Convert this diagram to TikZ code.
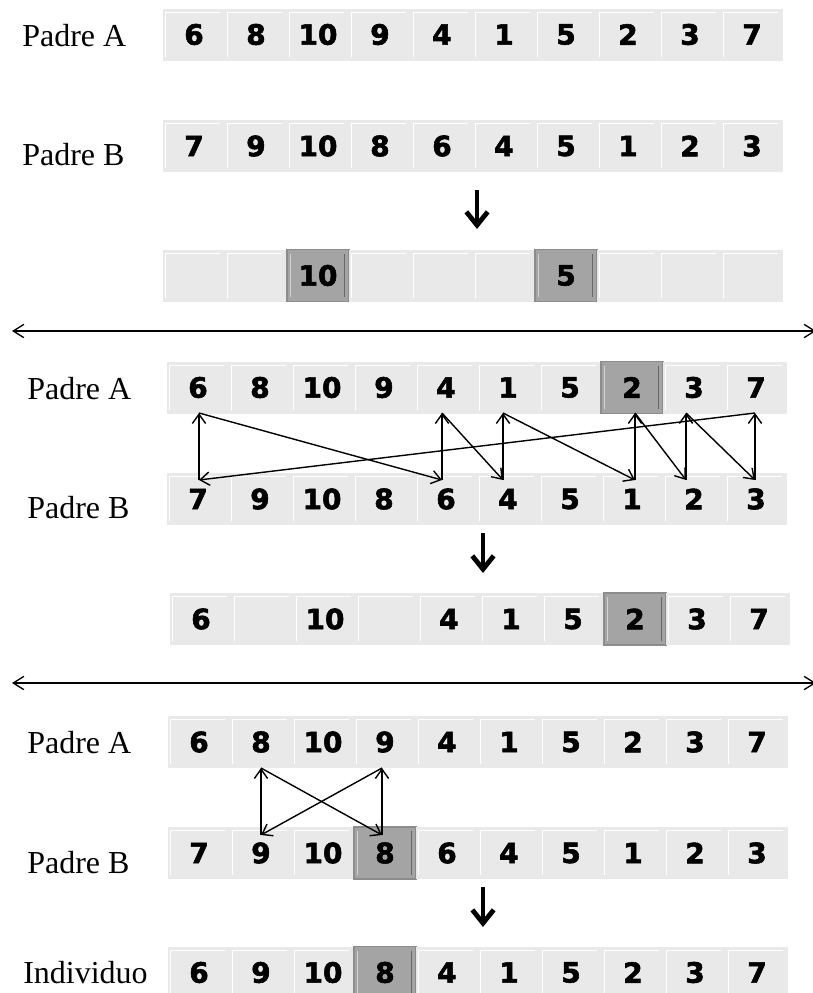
\documentclass[tikz,border=0pt]{standalone}
\usepackage{fontspec}
\setmainfont{Liberation Serif}
\newfontfamily\numfont{DejaVu Sans}[BoldFeatures={FakeBold=2}]
\usetikzlibrary{arrows.meta,calc}
\definecolor{cellfill}{HTML}{E9E9E9}
\definecolor{cellhl}{HTML}{A4A4A4}
\definecolor{hlborder}{HTML}{8C8C8C}
\tikzset{
  cell/.style={rectangle, minimum width=46.5pt, minimum height=39pt, inner sep=0pt,
    fill=cellfill, font=\numfont\bfseries\fontsize{21}{21}\selectfont},
  hlcell/.style={cell, fill=cellhl, draw=hlborder, line width=1.1pt},
  lab/.style={anchor=base west, inner sep=0pt, font=\fontsize{24}{24}\selectfont},
  link/.style={line width=1.05pt, -{Straight Barb[length=7pt,width=10pt]}},
  down/.style={line width=3.6pt, -{Straight Barb[length=10pt,width=16pt]}},
  sep/.style={line width=1pt, {Straight Barb[length=8pt,width=10pt]}-{Straight Barb[length=8pt,width=10pt]}},
}
% #1 name, #2 left x, #3 centre y, #4 items, #5 highlighted index (0 = none)
\newcommand\cellrow[5]{%
  \foreach \v [count=\i] in {#4} {
    \pgfmathsetmacro\cx{#2+31+62*(\i-1)}
    \ifnum\i=#5\relax
      \node[hlcell] (#1c\i) at (\cx,#3) {\v};
      \draw[gray!35, line width=0.9pt] ($(#1c\i.north west)+(4,5)$) -- ($(#1c\i.south west)+(4,-5)$);
      \draw[black!60, line width=0.9pt] ($(#1c\i.north east)+(-5,5)$) -- ($(#1c\i.south east)+(-5,-5)$);
    \else
      \node[cell] (#1c\i) at (\cx,#3) {\v};
      \draw[white, line width=0.8pt] ($(#1c\i.south west)+(3,-4)$) -- ($(#1c\i.north west)+(3,4)$) -- ($(#1c\i.north east)+(-5,4)$);
    \fi
  }%
}
\newcommand\cellrowtwo[6]{% second highlight
  \foreach \v [count=\i] in {#4} {
    \pgfmathsetmacro\cx{#2+31+62*(\i-1)}
    \ifnum\i=#5\relax \def\hlflag{1}\else\ifnum\i=#6\relax \def\hlflag{1}\else\def\hlflag{0}\fi\fi
    \ifnum\hlflag=1\relax
      \node[hlcell] (#1c\i) at (\cx,#3) {\v};
      \draw[gray!35, line width=0.9pt] ($(#1c\i.north west)+(4,5)$) -- ($(#1c\i.south west)+(4,-5)$);
      \draw[black!60, line width=0.9pt] ($(#1c\i.north east)+(-5,5)$) -- ($(#1c\i.south east)+(-5,-5)$);
    \else
      \node[cell] (#1c\i) at (\cx,#3) {\v};
      \draw[white, line width=0.8pt] ($(#1c\i.south west)+(3,-4)$) -- ($(#1c\i.north west)+(3,4)$) -- ($(#1c\i.north east)+(-5,4)$);
    \fi
  }%
}
\begin{document}
\begin{tikzpicture}[x=0.75pt,y=-0.75pt]
\clip (0,0) rectangle (813,993);
\fill[white] (0,0) rectangle (813,993);

% ---------- section 1 ----------
\node[lab] (la1) at (22,46) {Padre A};
\cellrow{ra}{163}{34.5}{6,8,10,9,4,1,5,2,3,7}{0}
\node[lab] (lb1) at (22,165) {Padre B};
\cellrow{rb}{163}{146}{7,9,10,8,6,4,5,1,2,3}{0}
\coordinate (d1s) at (477,190);
\coordinate (d1e) at (477,229);
\draw[down] (d1s) -- (d1e);
\cellrowtwo{rc}{163}{275.5}{{},{},10,{},{},{},5,{},{},{}}{3}{7}

\coordinate (s1l) at (12,331);
\coordinate (s1r) at (816,331);
\draw[sep] (s1l) -- (s1r);

% ---------- section 2 ----------
\node[lab] (la2) at (27,399) {Padre A};
\cellrow{rd}{167}{387.5}{6,8,10,9,4,1,5,2,3,7}{8}
\node[lab] (lb2) at (27,518) {Padre B};
\cellrow{re}{167}{499}{7,9,10,8,6,4,5,1,2,3}{0}

\foreach \n/\x in {1/199,5/442,6/503,8/635,9/686,10/755}{
  \coordinate (t\n) at (\x,413);
  \coordinate (b\n) at (\x,480);
}
\draw[link] (t1) -- (b5);
\draw[link] (b5) -- (t5);
\draw[link] (t5) -- (b6);
\draw[link] (b6) -- (t6);
\draw[link] (t6) -- (b8);
\draw[link] (b8) -- (t8);
\draw[link] (t8) -- (b9);
\draw[link] (b9) -- (t9);
\draw[link] (t9) -- (b10);
\draw[link] (b10) -- (t10);
\draw[link] (t10) -- (b1);
\draw[link] (b1) -- (t1);

\coordinate (d2s) at (483,533);
\coordinate (d2e) at (483,573);
\draw[down] (d2s) -- (d2e);
\cellrow{rf}{170}{619}{6,{},10,{},4,1,5,2,3,7}{8}

\coordinate (s2l) at (12,683);
\coordinate (s2r) at (816,683);
\draw[sep] (s2l) -- (s2r);

% ---------- section 3 ----------
\node[lab] (la3) at (27,753) {Padre A};
\cellrow{rg}{168}{742}{6,8,10,9,4,1,5,2,3,7}{0}
\node[lab] (lb3) at (27,873) {Padre B};
\cellrow{rh}{168}{853}{7,9,10,8,6,4,5,1,2,3}{4}

\coordinate (u2) at (261,768);
\coordinate (w2) at (261,835);
\coordinate (u4) at (382,768);
\coordinate (w4) at (382,835);
\draw[link] (u2) -- (w4);
\draw[link] (w4) -- (u4);
\draw[link] (u4) -- (w2);
\draw[link] (w2) -- (u2);

\coordinate (d3s) at (483,887);
\coordinate (d3e) at (483,927);
\draw[down] (d3s) -- (d3e);
\node[lab] (li) at (23,983) {Individuo};
\cellrow{ri}{168}{972.5}{6,9,10,8,4,1,5,2,3,7}{4}
\end{tikzpicture}
\end{document}
